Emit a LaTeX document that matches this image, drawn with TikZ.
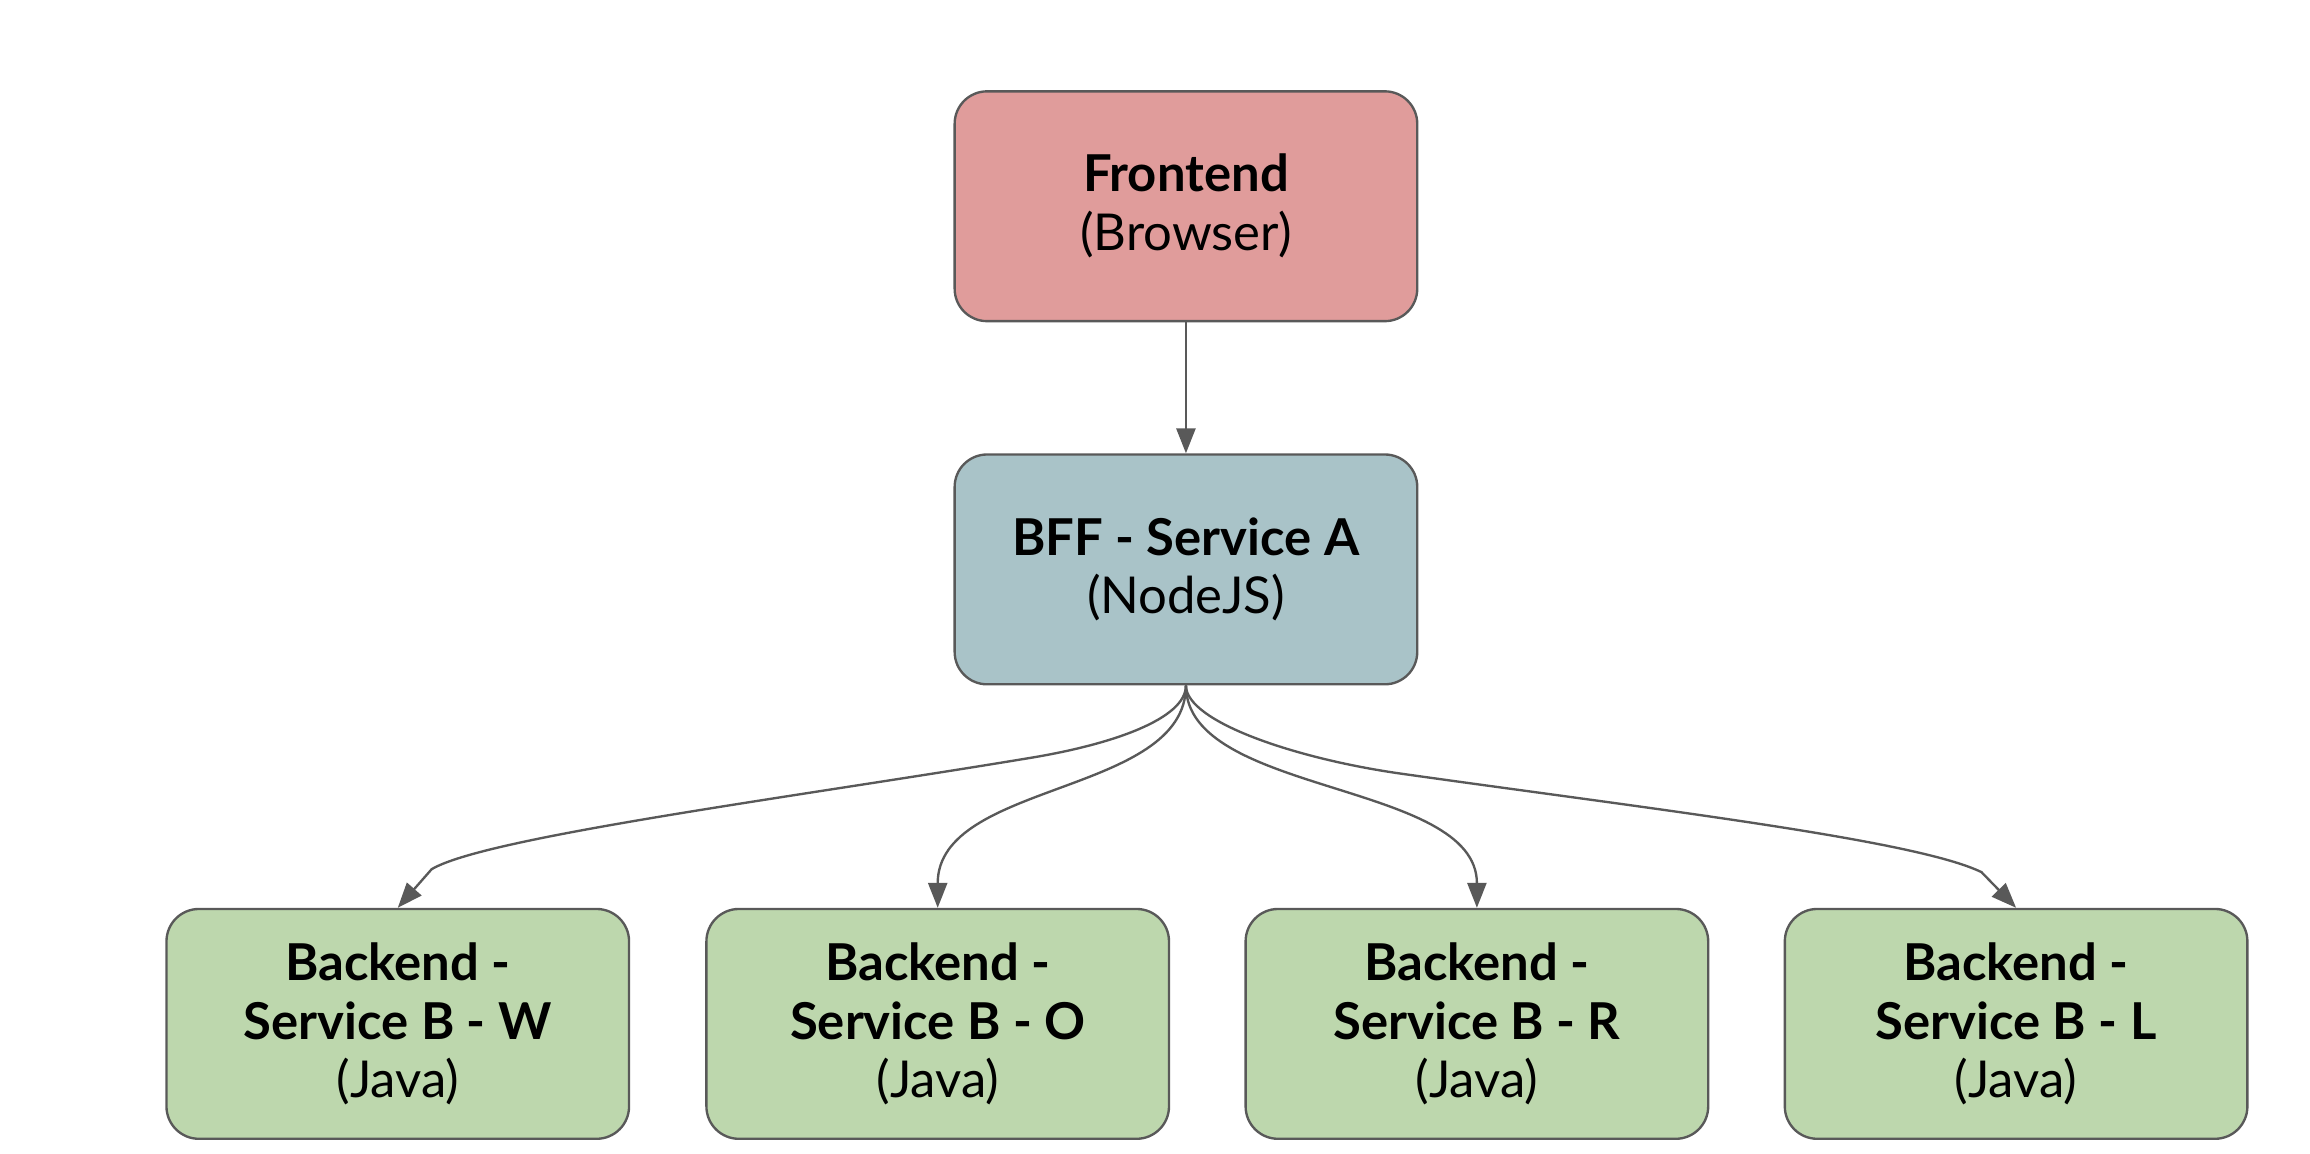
\documentclass[tikz,border=0pt]{standalone}
\usepackage{fontspec}
\setmainfont{Lato}
\usetikzlibrary{arrows.meta}
\definecolor{edgegray}{HTML}{595959}
\definecolor{fefill}{HTML}{E09C9B}
\definecolor{bfffill}{HTML}{A9C3C8}
\definecolor{befill}{HTML}{BDD7AD}
\begin{document}
\begin{tikzpicture}[x=1pt,y=-1pt,
  box/.style={draw=edgegray, line width=1.6pt, rounded corners=22pt,
    minimum width=314pt, minimum height=156pt, align=center,
    font=\fontsize{34.5}{40}\selectfont, text=black, inner sep=0pt},
  conn/.style={draw=edgegray, line width=1.6pt,
    -{Triangle[length=17pt,width=13pt]}}]
\useasboundingbox (0,0) rectangle (1568,783.3);
\node[box, fill=fefill] (fe) at (805,140) {\textbf{Frontend}\\(Browser)};
\node[box, fill=bfffill] (bff) at (805,386.5) {\textbf{BFF - Service A}\\(NodeJS)};
\node[box, fill=befill] (bw) at (270,695) {\textbf{Backend -}\\\textbf{Service B - W}\\(Java)};
\node[box, fill=befill] (bo) at (636.5,695) {\textbf{Backend -}\\\textbf{Service B - O}\\(Java)};
\node[box, fill=befill] (br) at (1002.5,695) {\textbf{Backend -}\\\textbf{Service B - R}\\(Java)};
\node[box, fill=befill] (bl) at (1368.5,695) {\textbf{Backend -}\\\textbf{Service B - L}\\(Java)};
\draw[conn] (fe.south) -- (bff.north);
\draw[conn] (bff.south) .. controls (805,488) and (755,505) .. (702,514)
  .. controls (540,541) and (330,568) .. (293,590) -- (bw.north);
\draw[conn] (bff.south) .. controls (805,540) and (636.5,530) .. (bo.north);
\draw[conn] (bff.south) .. controls (805,540) and (1002.5,530) .. (br.north);
\draw[conn] (bff.south) .. controls (805,490) and (880,515) .. (950,525)
  .. controls (1120,549) and (1300,570) .. (1345,592) -- (bl.north);
\end{tikzpicture}
\end{document}
